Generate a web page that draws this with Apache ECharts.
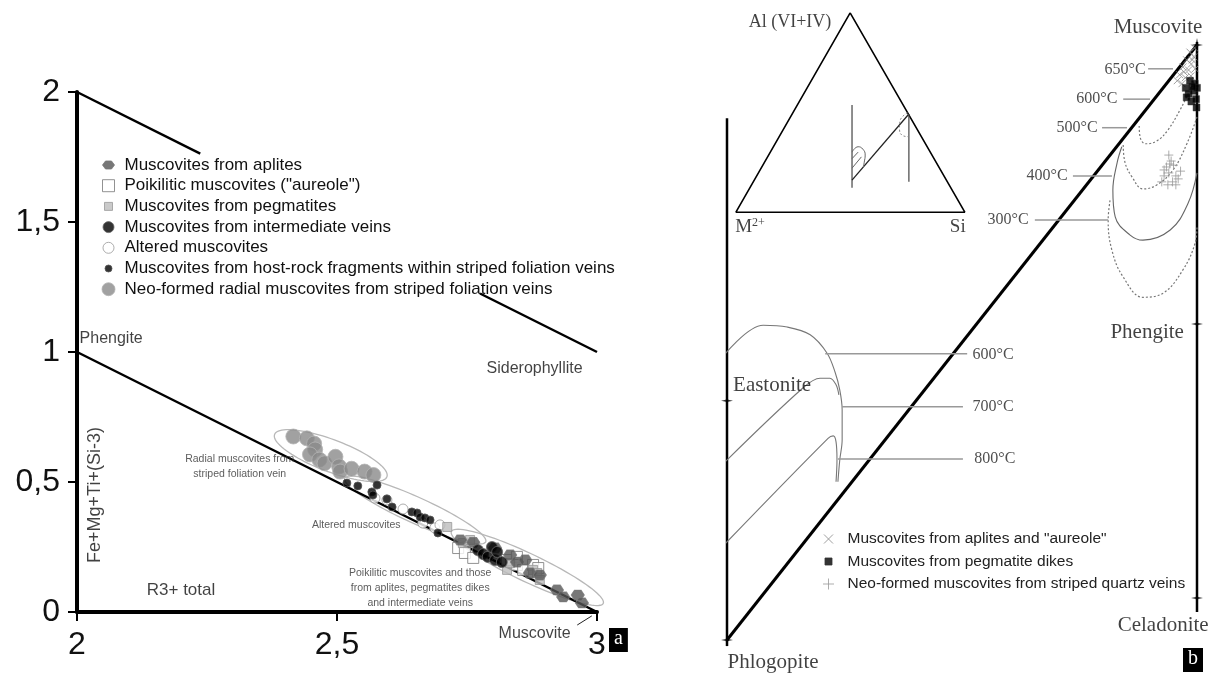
<!DOCTYPE html>
<html><head><meta charset="utf-8">
<script src="https://cdn.jsdelivr.net/npm/echarts/dist/echarts.min.js"></script>
<style>html,body{margin:0;padding:0;background:#fff}#c{width:1228px;height:675px}</style>
</head><body><div id="c"></div>
<script>
// ================= Panel a : data =================
const xTicksA = [2, 2.5, 3];
const yTicksA = [0, 0.5, 1, 1.5, 2];

const NAME_APL = 'Muscovites from aplites';
const NAME_POI = 'Poikilitic muscovites ("aureole")';
const NAME_PEG = 'Muscovites from pegmatites';
const NAME_INT = 'Muscovites from intermediate veins';
const NAME_ALT = 'Altered muscovites';
const NAME_HOST = 'Muscovites from host-rock fragments within striped foliation veins';
const NAME_RAD = 'Neo-formed radial muscovites from striped foliation veins';

const aplites = [[2.737,0.277],[2.762,0.268],[2.804,0.246],[2.833,0.219],[2.846,0.192],[2.862,0.200],[2.871,0.150],[2.890,0.142],[2.923,0.085],[2.935,0.058],[2.963,0.065],[2.971,0.035]];
const poikilitic = [[2.733,0.246],[2.746,0.227],[2.762,0.208],[2.827,0.200],[2.846,0.212],[2.846,0.181],[2.858,0.162],[2.877,0.181],[2.887,0.169]];
const pegmatites = [[2.712,0.327],[2.742,0.265],[2.756,0.277],[2.827,0.162],[2.833,0.188],[2.877,0.162],[2.885,0.150],[2.890,0.123]];
const intermediate = [[2.771,0.238],[2.781,0.223],[2.790,0.212],[2.798,0.250],[2.804,0.200],[2.808,0.231],[2.817,0.192]];
const altered = [[2.573,0.438],[2.596,0.431],[2.627,0.396],[2.665,0.342],[2.688,0.323],[2.698,0.335]];
const hostRock = [[2.519,0.496],[2.540,0.485],[2.577,0.488],[2.567,0.462],[2.569,0.450],[2.596,0.435],[2.606,0.404],[2.644,0.385],[2.654,0.381],[2.660,0.365],[2.669,0.362],[2.679,0.354],[2.694,0.304]];
const radial = [[2.416,0.675],[2.442,0.668],[2.456,0.648],[2.458,0.625],[2.448,0.606],[2.466,0.586],[2.476,0.572],[2.497,0.597],[2.504,0.560],[2.506,0.540],[2.528,0.551],[2.553,0.540],[2.570,0.527]];

// reference lines of the R3+ vs Fe+Mg+Ti+(Si-3) diagram
const sideroLineUpper = [[2,2],[2.237,1.763]];
const sideroLineLower = [[2.775,1.225],[3,1]];
const phengiteLine = [[2,1],[3,0]];
const muscoviteLeader = [[2.962,-0.05],[2.99,-0.015]];
// field ellipses: major-axis end points (x1,y1,x2,y2)
const fieldEllipses = [[2.38,0.683,2.596,0.52],[2.515,0.515,2.786,0.27],[2.72,0.31,3.012,0.033]];
const ellipseHalfWidthPx = [16,13,14];

// ================= Panel b : data (diagram units 0..100) =================
const bDiagonal = [[0,0],[100,100]];
const bLeftEdge = [[0,-1],[0,87.7]];
const bRightEdge = [[100,4.7],[100,100.5]];
const bEndMembers = [[100,100],[100,53.1],[100,7.06],[0,40.2],[0,0]];
const triOutline = [[26.2,105.4],[1.9,71.9],[50.6,71.9],[26.2,105.4]];
const triInnerLeft = [[26.6,89.9],[26.6,76.0]];
const triInnerDiag = [[26.6,77.3],[38.7,88.4]];
const triInnerRight = [[38.7,88.4],[38.7,77.0]];
const triDome = [[26.6,82.0],[27.9,82.9],[28.9,82.5],[29.4,81.5],[29.2,80.3],[29.0,79.4]];
const triHatch1 = [[26.6,79.3],[28.6,81.2]];
const triHatch2 = [[26.6,80.9],[27.9,82.0]];
const triDashed = [[38.4,88.6],[36.8,87.2],[36.7,85.8],[37.6,84.7],[38.6,84.6]];

const iso600Hi = [[87.7,86.4],[87.9,84.5],[89.1,83.4],[91.5,83.9],[93.8,85.7],[96.4,89.1],[98.5,92.4],[99.6,94.1]];
const iso500Hi = [[84.3,83.2],[84.7,80.2],[86.2,77.8],[88.5,75.8],[91.5,76.5],[94.9,79.0],[97.9,83.5],[100,87.9]];
const iso400Hi = [[84.0,82.9],[83.0,80.2],[82.1,75.6],[82.6,71.1],[85.7,68.1],[88.5,67.2],[94.3,68.9],[98.1,73.4],[100,78.5]];
const iso300Hi = [[81.5,73.9],[81.1,70.6],[81.9,65.5],[84.3,61.0],[88.5,57.6],[92.8,58.3],[97.0,62.2],[99.6,66.7],[100,69.4]];
const iso600Lo = [[-1.1,47.4],[7.7,52.9],[12.8,52.6],[17.7,51.3],[21.3,48.2],[23.0,45.0],[24.0,42.0],[24.5,38.7],[24.5,33.6],[24.0,30.3],[23.6,26.6]];
const iso700Lo = [[-1.1,29.4],[16.2,42.4],[19.8,44.0],[21.9,44.0],[23.2,42.9],[23.8,41.2]];
const iso800Lo = [[-1.1,15.6],[21.5,33.9],[22.6,34.3],[23.2,33.3],[23.4,30.3],[23.2,26.6]];

const tempLabelsHi = ['650°C','600°C','500°C','400°C','300°C'];
const leadersHi = [[[89.6,96.0],[94.9,96.0]],[[84.3,90.9],[90.0,90.9]],[[79.8,86.1],[85.1,86.1]],[[73.6,78.0],[81.9,78.0]],[[65.5,70.6],[81.1,70.6]]];
const tempLabelsLo = ['600°C','700°C','800°C'];
const leadersLo = [[[20.9,48.1],[51.1,48.1]],[[24.5,39.2],[50.2,39.2]],[[23.6,30.4],[50.2,30.4]]];

const NAME_B_X = 'Muscovites from aplites and "aureole"';
const NAME_B_SQ = 'Muscovites from pegmatite dikes';
const NAME_B_PL = 'Neo-formed muscovites from striped quartz veins';
const bCrosses = [[99.5,99.5],[98.5,98.8],[99.3,98.0],[97.8,97.5],[98.8,96.8],[97.0,96.3],[98.2,95.8],[99.6,96.0],[96.3,95.0],[97.5,94.5],[95.8,94.0],[98.7,94.8],[96.8,93.5],[99.0,97.5],[97.2,95.5]];
const bSquares = [[97.6,92.8],[98.5,94.0],[99.5,93.5],[98.2,91.8],[99.3,92.3],[100,92.8],[98.8,90.5],[99.8,90.9],[99.9,89.5],[97.8,91.2],[99.0,93.0]];
const bPluses = [[94.0,81.5],[94.5,80.5],[93.5,79.5],[95.0,79.8],[94.0,78.5],[95.5,78.0],[93.0,78.0],[96.0,77.5],[94.8,77.0],[92.5,77.0],[95.5,76.5],[93.8,76.5],[96.5,78.8],[94.2,80.0],[93.0,79.0]];

// ================= styles / layout =================
const SANS = 'Liberation Sans';
const SERIF = 'Liberation Serif';
const HEX = 'path://M3,0L9,0L12,4L9,8L3,8L0,4Z';
const STAR = 'path://M5,0L6,4.3L10,5L6,5.7L5,10L4,5.7L0,5L4,4.3Z';
const XMARK = 'path://M0,0L10,10M10,0L0,10';
const PLUS = 'path://M5,0L5,10M0,5L10,5';
const comma = v => String(v).replace('.', ',');

const annotationsA = [
  {text:'Phengite', at:[2.005,1.05], style:{fontSize:16, align:'left'}},
  {text:'Siderophyllite', at:[2.88,0.935], style:{fontSize:16}},
  {text:'R3+ total', at:[2.20,0.085], style:{fontSize:17}},
  {text:'Muscovite', at:[2.88,-0.082], style:{fontSize:16}},
  {text:'Fe+Mg+Ti+(Si-3)', at:[2.035,0.45], style:{fontSize:18, rotate:90}},
  {text:'Radial muscovites from\nstriped foliation vein', at:[2.313,0.56], style:{fontSize:10.5, lineHeight:15, color:'#333'}},
  {text:'Altered muscovites', at:[2.537,0.335], style:{fontSize:10.5, color:'#333'}},
  {text:'Poikilitic muscovites and those\nfrom aplites, pegmatites dikes\nand intermediate veins', at:[2.66,0.09], style:{fontSize:10.5, lineHeight:15, color:'#333'}}
];
const annotationsB = [
  {text:'Muscovite', at:[91.7,103.0], style:{fontSize:21}},
  {text:'Phengite', at:[89.4,51.6], style:{fontSize:21}},
  {text:'Celadonite', at:[92.8,2.5], style:{fontSize:21}},
  {text:'Phlogopite', at:[9.8,-3.7], style:{fontSize:21}},
  {text:'Eastonite', at:[9.6,42.7], style:{fontSize:21}},
  {text:'Al (VI+IV)', at:[13.4,103.9], style:{fontSize:18}},
  {text:'M{s|2+}', at:[4.9,69.4], style:{fontSize:19, rich:{s:{fontSize:12, verticalAlign:'top', padding:[0,0,8,0], fontFamily:SERIF, color:'#111'}}}},
  {text:'Si', at:[49.1,69.4], style:{fontSize:19}}
];
const hiLabelPos = [[84.7,95.8],[78.7,90.9],[74.5,86.1],[68.1,78.0],[59.8,70.6]];
const loLabelPos = [[56.6,47.9],[56.6,39.2],[57.0,30.4]];

function textSeries(axis, items, family){
  return {type:'scatter', xAxisIndex:axis, yAxisIndex:axis, symbolSize:0, silent:true, clip:false, z:10,
    data: items.map(it => ({value: it.at, label: Object.assign({show:true, position:'inside', formatter: it.text, fontFamily: family, color:'#111'}, it.style)}))};
}
function lineS(axis, data, style, smooth){
  return {type:'line', xAxisIndex:axis, yAxisIndex:axis, data, symbol:'none', smooth: smooth||false, clip:false, silent:true, lineStyle: style, z:3};
}
function ellipseRender(params, api){
  const i = params.dataIndex;
  const p1 = api.coord([api.value(0), api.value(1)]);
  const p2 = api.coord([api.value(2), api.value(3)]);
  const b = ellipseHalfWidthPx[i];
  const cx = (p1[0]+p2[0])/2, cy = (p1[1]+p2[1])/2;
  const a = Math.hypot(p2[0]-p1[0], p2[1]-p1[1])/2;
  const t = Math.atan2(p2[1]-p1[1], p2[0]-p1[0]);
  const pts = [];
  for (let k=0;k<90;k++){ const u=k/90*2*Math.PI; const ex=a*Math.cos(u), ey=b*Math.sin(u);
    pts.push([cx+ex*Math.cos(t)-ey*Math.sin(t), cy+ex*Math.sin(t)+ey*Math.cos(t)]); }
  return {type:'polygon', shape:{points:pts}, style:{fill:'none', stroke:'#b8b8b8', lineWidth:1.3}};
}

// legend rows (one legend component per row so each icon keeps its own size)
const legendRowsA = [
  {name:NAME_APL, size:12}, {name:NAME_POI, size:12}, {name:NAME_PEG, size:8}, {name:NAME_INT, size:11},
  {name:NAME_ALT, size:11}, {name:NAME_HOST, size:7}, {name:NAME_RAD, size:13}
];
const legendRowsB = [{name:NAME_B_X, size:9}, {name:NAME_B_SQ, size:7}, {name:NAME_B_PL, size:11}];
const legends = [];
legendRowsA.forEach((r,i) => legends.push({data:[r.name], selectedMode:false, padding:0, orient:'horizontal',
  left: 108 - r.size/2, top: 165 + i*20.7 - 9, itemWidth:r.size, itemHeight:r.size, itemStyle:{borderWidth:1},
  textStyle:{fontFamily:SANS, fontSize:17, color:'#111', lineHeight:18, padding:[0,0,0, Math.max(0, 124-(108+r.size/2+5))]}}));
legendRowsB.forEach((r,i) => legends.push({data:[r.name], selectedMode:false, padding:0,
  left: 828 - r.size/2, top: 539 + i*22.5 - 8, itemWidth:r.size, itemHeight:r.size, itemStyle:{borderWidth:1},
  textStyle:{fontFamily:SANS, fontSize:15.5, color:'#222', lineHeight:16, padding:[0,0,0, Math.max(0, 847-(828+r.size/2+5))]}}));

const blk = {color:'#000', width:2.5};
const series = [
  // panel a reference lines
  lineS(0, sideroLineUpper, blk), lineS(0, sideroLineLower, blk), lineS(0, phengiteLine, blk),
  lineS(0, muscoviteLeader, {color:'#222', width:1}),
  {type:'custom', xAxisIndex:0, yAxisIndex:0, renderItem: ellipseRender, data: fieldEllipses, silent:true, z:2},
  // panel a data
  {name:NAME_RAD, type:'scatter', xAxisIndex:0, yAxisIndex:0, data:radial, symbol:'circle', symbolSize:15, itemStyle:{color:'#8a8a8a', borderColor:'#b4b4b4', borderWidth:1}, z:4},
  {name:NAME_ALT, type:'scatter', xAxisIndex:0, yAxisIndex:0, data:altered, symbol:'circle', symbolSize:10, itemStyle:{color:'#fff', borderColor:'#999', borderWidth:1}, z:5},
  {name:NAME_POI, type:'scatter', xAxisIndex:0, yAxisIndex:0, data:poikilitic, symbol:'rect', symbolSize:11, itemStyle:{color:'#fff', borderColor:'#777', borderWidth:1}, z:5},
  {name:NAME_PEG, type:'scatter', xAxisIndex:0, yAxisIndex:0, data:pegmatites, symbol:'rect', symbolSize:9, itemStyle:{color:'#bdbdbd', borderColor:'#999', borderWidth:1}, z:5},
  {name:NAME_APL, type:'scatter', xAxisIndex:0, yAxisIndex:0, data:aplites, symbol:HEX, symbolSize:[13,10], itemStyle:{color:'#555', borderColor:'#777', borderWidth:1}, z:6},
  {name:NAME_INT, type:'scatter', xAxisIndex:0, yAxisIndex:0, data:intermediate, symbol:'circle', symbolSize:11, itemStyle:{color:'#000', borderColor:'#666', borderWidth:1}, z:7},
  {name:NAME_HOST, type:'scatter', xAxisIndex:0, yAxisIndex:0, data:hostRock, symbol:'circle', symbolSize:8, itemStyle:{color:'#000', borderColor:'#555', borderWidth:1}, z:7},
  textSeries(0, annotationsA, SANS),
  // panel b frame
  lineS(1, bDiagonal, {color:'#000', width:3}), lineS(1, bLeftEdge, blk), lineS(1, bRightEdge, blk),
  {type:'scatter', xAxisIndex:1, yAxisIndex:1, data:bEndMembers, symbol:STAR, symbolSize:[12,14], clip:false, silent:true, itemStyle:{color:'#000'}, z:8},
  // inset triangle
  lineS(1, triOutline, {color:'#000', width:1.6}), lineS(1, triInnerLeft, {color:'#444', width:1.2}),
  lineS(1, triInnerDiag, {color:'#222', width:1.3}), lineS(1, triInnerRight, {color:'#444', width:1.2}),
  lineS(1, triDome, {color:'#666', width:1}, 0.5), lineS(1, triHatch1, {color:'#666', width:1}), lineS(1, triHatch2, {color:'#666', width:1}),
  lineS(1, triDashed, {color:'#888', width:1, type:[2,2]}, 0.5),
  // isotherms
  lineS(1, iso600Hi, {color:'#777', width:1.2, type:[2,2]}, 0.4),
  lineS(1, iso500Hi, {color:'#777', width:1.2, type:[2,2]}, 0.4),
  lineS(1, iso400Hi, {color:'#666', width:1.1}, 0.4),
  lineS(1, iso300Hi, {color:'#777', width:1.2, type:[2,2]}, 0.4),
  lineS(1, iso600Lo, {color:'#777', width:1.1}, 0.35),
  lineS(1, iso700Lo, {color:'#777', width:1.1}, 0.35),
  lineS(1, iso800Lo, {color:'#777', width:1.1}, 0.35),
  ...leadersHi.map(l => lineS(1, l, {color:'#999', width:1.5})),
  ...leadersLo.map(l => lineS(1, l, {color:'#999', width:1.5})),
  textSeries(1, tempLabelsHi.map((t,i)=>({text:t, at:hiLabelPos[i], style:{fontSize:16, color:'#222'}})), SERIF),
  textSeries(1, tempLabelsLo.map((t,i)=>({text:t, at:loLabelPos[i], style:{fontSize:16, color:'#222'}})), SERIF),
  textSeries(1, annotationsB, SERIF),
  // panel b data
  {name:NAME_B_X, type:'scatter', xAxisIndex:1, yAxisIndex:1, data:bCrosses, symbol:XMARK, symbolSize:7, clip:false, itemStyle:{color:'rgba(0,0,0,0)', borderColor:'#888', borderWidth:1}, z:6},
  {name:NAME_B_SQ, type:'scatter', xAxisIndex:1, yAxisIndex:1, data:bSquares, symbol:'rect', symbolSize:7, clip:false, itemStyle:{color:'#000', borderColor:'#333', borderWidth:0.5}, z:7},
  {name:NAME_B_PL, type:'scatter', xAxisIndex:1, yAxisIndex:1, data:bPluses, symbol:PLUS, symbolSize:9, clip:false, itemStyle:{color:'rgba(0,0,0,0)', borderColor:'#999', borderWidth:1}, z:6}
];

const option = {
  animation:false, backgroundColor:'#fff',
  title:[
    {text:'a', left:609, top:628, padding:[1,5,3,5], backgroundColor:'#000', textStyle:{color:'#fff', fontFamily:SERIF, fontSize:20, fontWeight:'normal', lineHeight:20}},
    {text:'b', left:1183, top:648, padding:[1,5,3,5], backgroundColor:'#000', textStyle:{color:'#fff', fontFamily:SERIF, fontSize:20, fontWeight:'normal', lineHeight:20}}
  ],
  legend: legends,
  grid:[
    {left:77, right:1228-597, top:92, bottom:675-612, outerBoundsMode:'none', containLabel:false},
    {left:727, right:1228-1197, top:45, bottom:675-640, outerBoundsMode:'none', containLabel:false}
  ],
  xAxis:[
    {type:'value', gridIndex:0, min:xTicksA[0], max:xTicksA[xTicksA.length-1], interval:xTicksA[1]-xTicksA[0],
     axisLine:{show:true, onZero:false, lineStyle:{color:'#000', width:4}}, axisTick:{show:true, inside:false, length:9, lineStyle:{color:'#000', width:2}},
     axisLabel:{formatter:comma, margin:17, fontFamily:SANS, fontSize:32, color:'#111'}, splitLine:{show:false}},
    {type:'value', gridIndex:1, min:0, max:100, show:false, splitLine:{show:false}}
  ],
  yAxis:[
    {type:'value', gridIndex:0, min:yTicksA[0], max:yTicksA[yTicksA.length-1], interval:yTicksA[1]-yTicksA[0],
     axisLine:{show:true, onZero:false, lineStyle:{color:'#000', width:4}}, axisTick:{show:true, inside:false, length:9, lineStyle:{color:'#000', width:2}},
     axisLabel:{formatter:comma, margin:17, fontFamily:SANS, fontSize:32, color:'#111'}, splitLine:{show:false}},
    {type:'value', gridIndex:1, min:0, max:100, show:false, splitLine:{show:false}}
  ],
  series
};
const chart = echarts.init(document.getElementById('c'), null, {renderer:'canvas'});
chart.setOption(option);
</script></body></html>
